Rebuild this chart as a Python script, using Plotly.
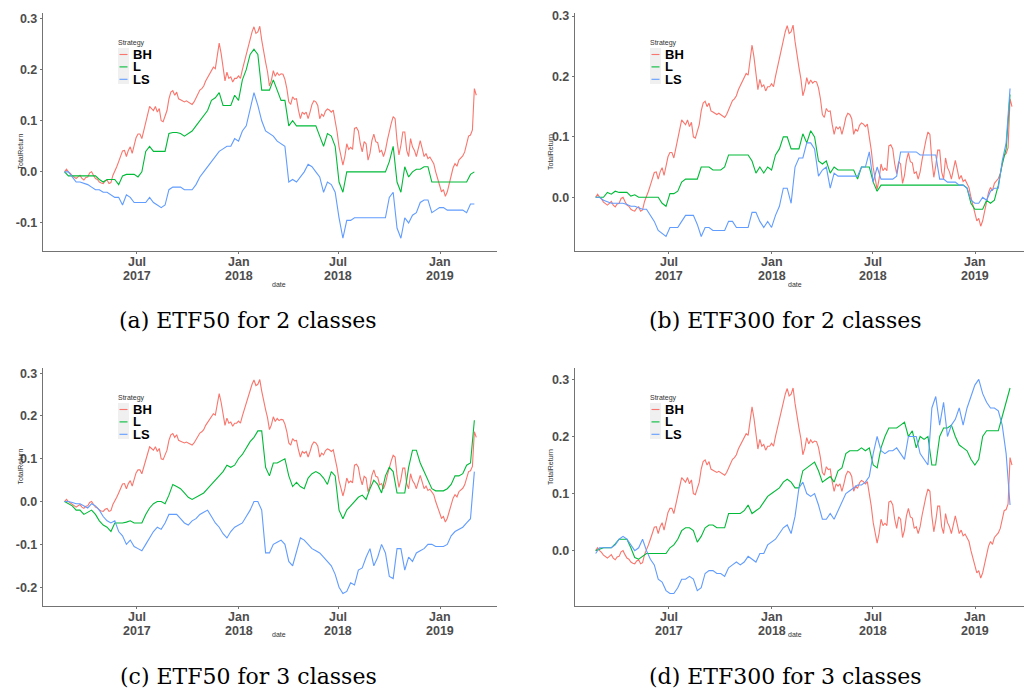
import plotly.graph_objects as go
import pandas as pd

# ---------------- data ----------------
START_DATE = "2017-02-20"
# strategy curves: weekly samples
N_WEEKS = 107
DATES = pd.date_range(START_DATE, periods=N_WEEKS, freq="7D")
# buy & hold curve: twice-weekly samples (same index series in all four panels)
N_HALF = 214
DATES_BH = pd.date_range(START_DATE, periods=N_HALF, freq="84h")

BH = [0.0, 0.005, 0.0, -0.003, -0.008, -0.011, -0.013, -0.01, -0.007, -0.013,
      -0.016, -0.011, -0.01, -0.002, 0.0, -0.007, -0.013, -0.015, -0.02, -0.022,
      -0.023, -0.018, -0.016, -0.023, -0.021, -0.007, 0.0, 0.01, 0.02, 0.033,
      0.041, 0.042, 0.03, 0.042, 0.049, 0.036, 0.052, 0.067, 0.074, 0.074,
      0.065, 0.082, 0.1, 0.117, 0.128, 0.124, 0.12, 0.128, 0.117, 0.124,
      0.1, 0.098, 0.111, 0.12, 0.143, 0.156, 0.159, 0.15, 0.156, 0.143,
      0.141, 0.139, 0.137, 0.139, 0.137, 0.135, 0.132, 0.137, 0.145, 0.15,
      0.16, 0.163, 0.168, 0.178, 0.185, 0.191, 0.198, 0.205, 0.202, 0.232,
      0.252, 0.232, 0.202, 0.178, 0.195, 0.183, 0.186, 0.176, 0.183, 0.183,
      0.188, 0.183, 0.2, 0.215, 0.233, 0.243, 0.262, 0.274, 0.284, 0.271,
      0.274, 0.285, 0.258, 0.233, 0.215, 0.196, 0.168, 0.179, 0.198, 0.187,
      0.194, 0.189, 0.192, 0.191, 0.181, 0.163, 0.137, 0.132, 0.147, 0.142,
      0.143, 0.121, 0.104, 0.117, 0.113, 0.117, 0.104, 0.117, 0.132, 0.139,
      0.137, 0.13, 0.104, 0.113, 0.109, 0.119, 0.123, 0.121, 0.117, 0.121,
      0.102, 0.078, 0.049, 0.033, 0.013, 0.03, 0.055, 0.044, 0.048, 0.044,
      0.085, 0.087, 0.08, 0.055, 0.039, 0.059, 0.055, 0.023, 0.036, 0.061,
      0.074, 0.059, 0.057, 0.039, 0.042, 0.03, 0.042, 0.062, 0.082, 0.095,
      0.108, 0.104, 0.061, 0.033, 0.052, 0.078, 0.078, 0.042, 0.03, 0.065,
      0.049, 0.042, 0.03, 0.046, 0.061, 0.046, 0.03, 0.036, 0.026, 0.029,
      0.023, 0.016, 0.0, -0.013, -0.026, -0.039, -0.035, -0.048, -0.039, -0.021,
      -0.01, 0.008, 0.016, 0.011, 0.023, 0.028, 0.031, 0.039, 0.055, 0.07,
      0.072, 0.082, 0.163, 0.15]

# (a) ETF50, 2 classes
L_A = [0.0, -0.008, -0.008, -0.008, -0.008, -0.008, -0.008, -0.008, -0.008, -0.015,
       -0.02, -0.015, -0.015, -0.015, -0.025, -0.008, -0.005, -0.005, -0.005, -0.01,
       0.0, 0.04, 0.05, 0.04, 0.04, 0.04, 0.04, 0.075, 0.077, 0.077,
       0.075, 0.07, 0.075, 0.08, 0.09, 0.1, 0.11, 0.12, 0.14, 0.145,
       0.155, 0.13, 0.13, 0.13, 0.15, 0.14, 0.18, 0.2, 0.23, 0.24,
       0.23, 0.16, 0.16, 0.16, 0.18, 0.16, 0.14, 0.14, 0.09, 0.1,
       0.09, 0.09, 0.09, 0.09, 0.09, 0.09, 0.07, 0.05, 0.075, 0.07,
       0.05, -0.02, -0.04, 0.0, 0.0, 0.0, 0.0, 0.0, 0.0, 0.0,
       0.0, 0.0, 0.0, 0.0, 0.02, 0.05, -0.02, -0.04, 0.01, -0.01,
       0.0, 0.005, 0.005, 0.01, 0.01, -0.02, -0.02, -0.02, -0.02, -0.02,
       -0.02, -0.02, -0.02, -0.02, -0.02, -0.005, 0.0]
LS_A = [0.0, 0.0, -0.01, -0.02, -0.02, -0.022, -0.025, -0.03, -0.035, -0.035,
        -0.04, -0.04, -0.045, -0.05, -0.05, -0.065, -0.045, -0.05, -0.06, -0.06,
        -0.06, -0.06, -0.05, -0.06, -0.065, -0.07, -0.065, -0.035, -0.03, -0.03,
        -0.03, -0.035, -0.035, -0.035, -0.025, -0.01, 0.0, 0.01, 0.02, 0.03,
        0.04, 0.045, 0.05, 0.05, 0.065, 0.06, 0.08, 0.09, 0.12, 0.155,
        0.13, 0.1, 0.08, 0.075, 0.07, 0.06, 0.055, 0.05, -0.02, -0.015,
        -0.02, -0.01, 0.0, 0.015, 0.01, 0.0, -0.01, -0.04, -0.02, -0.025,
        -0.04, -0.09, -0.13, -0.095, -0.095, -0.09, -0.09, -0.09, -0.09, -0.09,
        -0.09, -0.09, -0.09, -0.09, -0.05, -0.04, -0.11, -0.13, -0.09, -0.1,
        -0.085, -0.08, -0.06, -0.055, -0.055, -0.08, -0.075, -0.07, -0.07, -0.075,
        -0.075, -0.075, -0.075, -0.075, -0.08, -0.063, -0.063]

# (b) ETF300, 2 classes
L_B = [0.0, 0.0, 0.0, 0.008, 0.005, 0.01, 0.008, 0.008, 0.008, 0.002,
       0.004, 0.0, 0.0, 0.0, 0.0, 0.0, 0.0, -0.01, -0.015, 0.006,
       0.006, 0.01, 0.025, 0.03, 0.03, 0.03, 0.03, 0.05, 0.05, 0.05,
       0.045, 0.045, 0.045, 0.05, 0.07, 0.07, 0.07, 0.07, 0.07, 0.07,
       0.06, 0.04, 0.05, 0.04, 0.05, 0.045, 0.07, 0.08, 0.1, 0.1,
       0.08, 0.08, 0.08, 0.105, 0.09, 0.11, 0.1, 0.06, 0.055, 0.06,
       0.04, 0.05, 0.045, 0.045, 0.045, 0.045, 0.045, 0.03, 0.05, 0.05,
       0.05, 0.025, 0.01, 0.02, 0.02, 0.02, 0.02, 0.02, 0.02, 0.02,
       0.02, 0.02, 0.02, 0.02, 0.02, 0.02, 0.02, 0.02, 0.02, 0.02,
       0.02, 0.02, 0.02, 0.02, 0.02, 0.015, -0.01, -0.02, -0.02, -0.02,
       -0.005, -0.01, -0.005, 0.02, 0.055, 0.08, 0.17]
LS_B = [0.0, 0.0, -0.005, -0.008, -0.01, -0.01, -0.01, -0.01, -0.012, -0.015,
        -0.015, -0.018, -0.02, -0.02, -0.03, -0.04, -0.055, -0.06, -0.065, -0.05,
        -0.05, -0.05, -0.04, -0.03, -0.03, -0.03, -0.045, -0.065, -0.05, -0.05,
        -0.055, -0.055, -0.055, -0.055, -0.04, -0.04, -0.05, -0.05, -0.05, -0.05,
        -0.025, -0.025, -0.04, -0.05, -0.04, -0.05, -0.03, -0.015, 0.015, 0.015,
        -0.01, 0.05, 0.065, 0.065, 0.09, 0.09, 0.08, 0.035, 0.045, 0.05,
        0.015, 0.04, 0.035, 0.035, 0.035, 0.035, 0.035, 0.035, 0.05, 0.05,
        0.075, 0.025, 0.05, 0.03, 0.03, 0.03, 0.03, 0.035, 0.075, 0.075,
        0.075, 0.075, 0.075, 0.07, 0.07, 0.07, 0.07, 0.07, 0.03, 0.03,
        0.025, 0.025, 0.025, 0.02, 0.02, 0.015, -0.005, -0.01, -0.01, 0.0,
        -0.005, 0.01, 0.015, 0.015, 0.06, 0.09, 0.18]

# (c) ETF50, 3 classes
L_C = [0.0, -0.005, -0.01, -0.02, -0.02, -0.03, -0.025, -0.02, -0.03, -0.045,
       -0.055, -0.06, -0.07, -0.05, -0.05, -0.05, -0.048, -0.045, -0.05, -0.05,
       -0.05, -0.03, -0.015, -0.005, 0.0, 0.0, -0.005, 0.015, 0.04, 0.035,
       0.03, 0.02, 0.01, 0.005, 0.01, 0.015, 0.02, 0.03, 0.04, 0.05,
       0.06, 0.07, 0.085, 0.08, 0.085, 0.1, 0.11, 0.125, 0.14, 0.15,
       0.165, 0.165, 0.08, 0.06, 0.09, 0.09, 0.095, 0.1, 0.06, 0.035,
       0.045, 0.035, 0.03, 0.055, 0.065, 0.07, 0.065, 0.055, 0.04, 0.07,
       0.06, -0.02, -0.04, -0.02, -0.01, 0.0, 0.01, 0.015, 0.005, 0.03,
       0.05, 0.04, 0.02, 0.06, 0.08, 0.07, 0.02, 0.02, 0.02, 0.08,
       0.12, 0.12, 0.09, 0.07, 0.05, 0.03, 0.025, 0.025, 0.025, 0.03,
       0.04, 0.06, 0.06, 0.065, 0.085, 0.09, 0.19]
LS_C = [0.0, 0.0, -0.002, -0.005, -0.005, -0.01, -0.015, -0.005, -0.01, -0.02,
        -0.035, -0.045, -0.05, -0.045, -0.07, -0.08, -0.1, -0.09, -0.105, -0.11,
        -0.115, -0.1, -0.085, -0.07, -0.06, -0.065, -0.05, -0.03, -0.03, -0.03,
        -0.04, -0.05, -0.055, -0.045, -0.04, -0.03, -0.025, -0.02, -0.035, -0.05,
        -0.06, -0.075, -0.085, -0.07, -0.06, -0.055, -0.05, -0.035, -0.02, 0.0,
        0.0, -0.02, -0.12, -0.12, -0.1, -0.095, -0.09, -0.1, -0.14, -0.15,
        -0.12, -0.085, -0.09, -0.1, -0.11, -0.115, -0.12, -0.13, -0.14, -0.15,
        -0.17, -0.2, -0.215, -0.21, -0.19, -0.195, -0.16, -0.155, -0.13, -0.11,
        -0.15, -0.13, -0.1, -0.12, -0.175, -0.18, -0.11, -0.11, -0.16, -0.13,
        -0.14, -0.12, -0.115, -0.11, -0.1, -0.1, -0.105, -0.105, -0.105, -0.1,
        -0.08, -0.07, -0.065, -0.06, -0.05, -0.04, 0.07]

# (d) ETF300, 3 classes
L_D = [0.0, 0.003, 0.005, 0.005, 0.005, 0.012, 0.02, 0.02, 0.02, 0.005,
       -0.012, -0.015, -0.01, -0.005, -0.005, -0.005, -0.005, -0.005, -0.005, 0.005,
       0.01, 0.02, 0.035, 0.04, 0.04, 0.035, 0.015, 0.025, 0.04, 0.045,
       0.045, 0.04, 0.04, 0.04, 0.065, 0.065, 0.065, 0.065, 0.07, 0.08,
       0.065, 0.07, 0.075, 0.085, 0.095, 0.1, 0.105, 0.11, 0.12, 0.125,
       0.12, 0.11, 0.11, 0.14, 0.145, 0.15, 0.155, 0.14, 0.12, 0.125,
       0.13, 0.12, 0.14, 0.145, 0.17, 0.175, 0.175, 0.175, 0.18, 0.175,
       0.18, 0.15, 0.145, 0.18, 0.2, 0.215, 0.215, 0.215, 0.22, 0.225,
       0.2, 0.21, 0.18, 0.2, 0.195, 0.2, 0.15, 0.15, 0.2, 0.215,
       0.215, 0.22, 0.2, 0.185, 0.18, 0.175, 0.16, 0.15, 0.16, 0.2,
       0.21, 0.21, 0.21, 0.21, 0.235, 0.26, 0.285]
LS_D = [-0.005, 0.005, 0.005, 0.005, 0.005, 0.01, 0.02, 0.025, 0.02, 0.01,
        0.0, 0.005, 0.02, 0.0, -0.015, -0.025, -0.05, -0.055, -0.07, -0.075,
        -0.075, -0.065, -0.05, -0.05, -0.045, -0.05, -0.07, -0.065, -0.04, -0.035,
        -0.035, -0.04, -0.04, -0.045, -0.03, -0.025, -0.02, -0.025, -0.02, -0.01,
        -0.015, -0.02, -0.005, -0.005, 0.01, 0.015, 0.02, 0.03, 0.04, 0.045,
        0.03, 0.06, 0.11, 0.12, 0.1, 0.095, 0.1, 0.08, 0.055, 0.055,
        0.065, 0.055, 0.07, 0.085, 0.1, 0.105, 0.11, 0.115, 0.115, 0.12,
        0.13, 0.17, 0.2, 0.175, 0.17, 0.175, 0.175, 0.18, 0.17, 0.16,
        0.2, 0.2, 0.2, 0.17, 0.16, 0.15, 0.25, 0.27, 0.22, 0.26,
        0.2, 0.22, 0.23, 0.25, 0.22, 0.25, 0.27, 0.29, 0.3, 0.275,
        0.26, 0.25, 0.25, 0.245, 0.22, 0.17, 0.08]

STRATEGIES = ["BH", "L", "LS"]
COLORS = {"BH": "#F8766D", "L": "#00BA38", "LS": "#619CFF"}

X_TICK_VALS = ["2017-07-01", "2018-01-01", "2018-07-01", "2019-01-01"]
X_TICK_MONTH = ["Jul", "Jan", "Jul", "Jan"]
X_TICK_YEAR = ["2017", "2018", "2018", "2019"]
Y_TICKS_A = [-0.1, 0.0, 0.1, 0.2, 0.3]
Y_TICKS_B = [0.0, 0.1, 0.2, 0.3]
Y_TICKS_C = [-0.2, -0.1, 0.0, 0.1, 0.2, 0.3]
Y_TICKS_D = [0.0, 0.1, 0.2, 0.3]

CAPTIONS = ["(a) ETF50 for 2 classes", "(b) ETF300 for 2 classes",
            "(c) ETF50 for 3 classes", "(d) ETF300 for 3 classes"]

# ---------------- layout geometry (pixels) ----------------
W, H = 1024, 693


def fx(x):
    return x / W


def fy(y):
    return 1 - y / H


panels = [
    dict(xd=(43, 497), yd=(13, 251), xr=["2017-01-12", "2019-04-14"], yr=[-0.155, 0.311],
         yt=Y_TICKS_A, series={"L": L_A, "LS": LS_A},
         leg=(118, 43), ytit=(14, 132), xtit=(270, 285), cap=(248, 320)),
    dict(xd=(575, 1024), yd=(13, 251), xr=["2017-01-14", "2019-03-29"], yr=[-0.089, 0.305],
         yt=Y_TICKS_B, series={"L": L_B, "LS": LS_B},
         leg=(650, 43), ytit=(550, 132), xtit=(804, 285), cap=(785, 320)),
    dict(xd=(43, 497), yd=(368, 606), xr=["2017-01-12", "2019-04-14"], yr=[-0.244, 0.312],
         yt=Y_TICKS_C, series={"L": L_C, "LS": LS_C},
         leg=(118, 398), ytit=(14, 487), xtit=(270, 640), cap=(248, 676)),
    dict(xd=(575, 1024), yd=(368, 606), xr=["2017-01-14", "2019-03-29"], yr=[-0.097, 0.32],
         yt=Y_TICKS_D, series={"L": L_D, "LS": LS_D},
         leg=(650, 398), ytit=(550, 487), xtit=(804, 640), cap=(785, 676)),
]

AXIS_COLOR = "#737373"
SANS = "Liberation Sans, Arial, sans-serif"
TICK_FONT = dict(family=SANS, size=12.5, color="#4D4D4D", weight="bold")

fig = go.Figure()
layout = dict(width=W, height=H, margin=dict(l=0, r=0, t=0, b=0, autoexpand=False),
              paper_bgcolor="white", plot_bgcolor="white", showlegend=False)
shapes = []
annotations = []

for k, p in enumerate(panels):
    n = "" if k == 0 else str(k + 1)
    fig.add_trace(go.Scatter(
        x=DATES_BH, y=BH, mode="lines", name="BH",
        line=dict(color=COLORS["BH"], width=1.1),
        xaxis="x" + n, yaxis="y" + n, hoverinfo="skip"))
    for s in ["L", "LS"]:
        fig.add_trace(go.Scatter(
            x=DATES, y=p["series"][s], mode="lines", name=s,
            line=dict(color=COLORS[s], width=1.1),
            xaxis="x" + n, yaxis="y" + n, hoverinfo="skip"))

    layout["xaxis" + n] = dict(
        domain=[fx(p["xd"][0]), fx(p["xd"][1])], anchor="y" + n, type="date",
        range=p["xr"], tickvals=X_TICK_VALS, showticklabels=False, automargin=False,
        showline=True, linecolor=AXIS_COLOR, linewidth=1.4,
        ticks="outside", ticklen=2, tickcolor=AXIS_COLOR, tickwidth=1,
        showgrid=False, zeroline=False, fixedrange=True)
    layout["yaxis" + n] = dict(
        domain=[fy(p["yd"][1]), fy(p["yd"][0])], anchor="x" + n, automargin=False,
        range=p["yr"], tickvals=p["yt"], ticktext=["%.1f" % v for v in p["yt"]],
        showline=True, linecolor=AXIS_COLOR, linewidth=1.4,
        ticks="outside", ticklen=2, tickcolor=AXIS_COLOR, tickwidth=1,
        showgrid=False, zeroline=False, tickfont=TICK_FONT, fixedrange=True)

    # x tick labels (two lines: month / year) placed on the axis' date scale
    ybot = p["yd"][1]
    for tv, mo, yr in zip(X_TICK_VALS, X_TICK_MONTH, X_TICK_YEAR):
        annotations.append(dict(x=tv, xref="x" + n, y=fy(ybot + 11), yref="paper",
                                text=mo, showarrow=False, xanchor="center", yanchor="middle",
                                font=TICK_FONT))
        annotations.append(dict(x=tv, xref="x" + n, y=fy(ybot + 24.5), yref="paper",
                                text=yr, showarrow=False, xanchor="center", yanchor="middle",
                                font=TICK_FONT))

    # axis titles (tiny, as in the reference)
    annotations.append(dict(x=fx(p["ytit"][0]), y=fy(p["ytit"][1]), xref="paper", yref="paper",
                            text="TotalReturn", showarrow=False, textangle=-90,
                            font=dict(family=SANS, size=7, color="#333333")))
    annotations.append(dict(x=fx(p["xtit"][0]), y=fy(p["xtit"][1]), xref="paper", yref="paper",
                            text="date", showarrow=False,
                            font=dict(family=SANS, size=7, color="#333333")))

    # legend
    lx, ly = p["leg"]
    annotations.append(dict(x=fx(lx - 1), y=fy(ly), xref="paper", yref="paper",
                            text="Strategy", showarrow=False, xanchor="left", yanchor="middle",
                            borderpad=0, font=dict(family=SANS, size=7, color="#333333")))
    shapes.append(dict(type="rect", xref="paper", yref="paper",
                       x0=fx(lx), x1=fx(lx + 11), y0=fy(ly + 5), y1=fy(ly + 41),
                       fillcolor="#F0F0F0", line=dict(width=0), layer="above"))
    for j, s in enumerate(STRATEGIES):
        ry = ly + 11.5 + 12.4 * j
        shapes.append(dict(type="line", xref="paper", yref="paper",
                           x0=fx(lx + 1.5), x1=fx(lx + 9.5), y0=fy(ry), y1=fy(ry),
                           line=dict(color=COLORS[s], width=1.1), layer="above"))
        annotations.append(dict(x=fx(lx + 14), y=fy(ry), xref="paper", yref="paper",
                                text="<b>%s</b>" % s, showarrow=False, borderpad=0,
                                xanchor="left", yanchor="middle",
                                font=dict(family=SANS, size=13, color="#000000")))

    # caption
    annotations.append(dict(x=fx(p["cap"][0]), y=fy(p["cap"][1]), xref="paper", yref="paper",
                            text=CAPTIONS[k], showarrow=False, xanchor="center", yanchor="middle",
                            font=dict(family="DejaVu Serif, serif", size=22, color="#000000")))

layout["shapes"] = shapes
layout["annotations"] = annotations
fig.update_layout(**layout)
fig.write_html("out.html", config={"displayModeBar": False},
               post_script="document.body.style.margin='0';document.body.style.overflow='hidden';")
